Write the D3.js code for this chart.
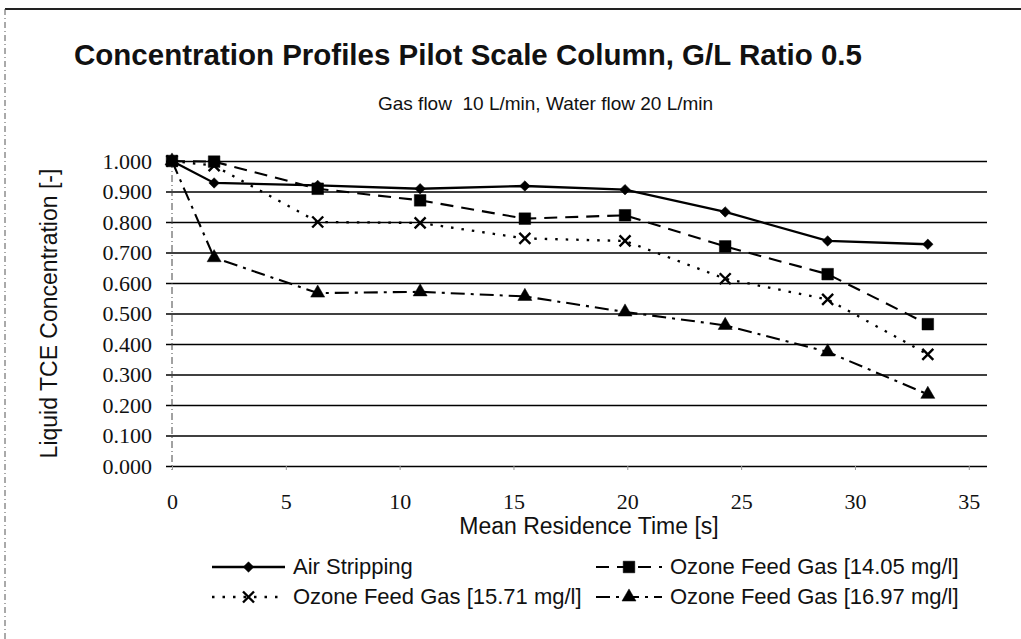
<!DOCTYPE html>
<html>
<head>
<meta charset="utf-8">
<script src="https://cdn.jsdelivr.net/npm/d3@7"></script>
<style>
  body { margin: 0; background: #fff; }
  svg { display: block; }
  .sans { font-family: "Liberation Sans", Arial, sans-serif; fill: #111; }
  .serif { font-family: "Liberation Serif", "Times New Roman", serif; fill: #111; }
</style>
</head>
<body>
<div id="chart"></div>
<script>
// Data
var times = [0, 1.85, 6.4, 10.9, 15.5, 19.9, 24.3, 28.8, 33.2];
var airStripping = [1.000, 0.928, 0.920, 0.909, 0.918, 0.906, 0.833, 0.738, 0.727];
var ozone1405 = [1.000, 0.998, 0.909, 0.871, 0.811, 0.822, 0.720, 0.629, 0.465];
var ozone1571 = [1.000, 0.985, 0.800, 0.797, 0.746, 0.738, 0.614, 0.546, 0.366];
var ozone1697 = [1.000, 0.683, 0.567, 0.571, 0.556, 0.505, 0.461, 0.374, 0.235];
var seriesNames = ["Air Stripping", "Ozone Feed Gas [14.05 mg/l]",
  "Ozone Feed Gas [15.71 mg/l]", "Ozone Feed Gas [16.97 mg/l]"];
var xTicks = [0, 5, 10, 15, 20, 25, 30, 35];
var yTicks = [0, 0.1, 0.2, 0.3, 0.4, 0.5, 0.6, 0.7, 0.8, 0.9, 1.0];

var svgWidth = 1021;
var svgHeight = 639;

var margin = { top: 161, right: 34, bottom: 173, left: 172 };
var width = svgWidth - margin.left - margin.right;
var height = svgHeight - margin.top - margin.bottom;

var svg = d3.select("#chart")
  .append("svg")
  .attr("width", svgWidth)
  .attr("height", svgHeight);

// scanned page frame (top edge + dashed left edge)
svg.append("line")
  .attr("x1", 5).attr("x2", svgWidth).attr("y1", 9).attr("y2", 9)
  .attr("stroke", "#222").attr("stroke-width", 2);
svg.append("line")
  .attr("x1", 5).attr("x2", 5).attr("y1", 9).attr("y2", svgHeight)
  .attr("stroke", "#555").attr("stroke-width", 1)
  .attr("stroke-dasharray", "6,3,1,3");

// titles
svg.append("text")
  .attr("class", "sans")
  .attr("x", 74).attr("y", 65)
  .style("font-size", "29.5px").style("font-weight", "bold")
  .text("Concentration Profiles Pilot Scale Column, G/L Ratio 0.5");

svg.append("text")
  .attr("class", "sans")
  .attr("x", 378).attr("y", 110)
  .style("font-size", "19px")
  .style("white-space", "pre")
  .text("Gas flow  10 L/min, Water flow 20 L/min");

var chartGroup = svg.append("g")
  .attr("transform", `translate(${margin.left}, ${margin.top})`);

// scales
var xScale = d3.scaleLinear().domain([0, 35.8]).range([0, width]);
var yScale = d3.scaleLinear().domain([0, 1]).range([height, 0]);

// y axis with gridlines across the plot
var yAxis = d3.axisLeft(yScale)
  .tickValues(yTicks)
  .tickFormat(d3.format(".3f"))
  .tickSize(-width)
  .tickPadding(20);

var yAxisGroup = chartGroup.append("g").call(yAxis);
yAxisGroup.select(".domain").remove();
yAxisGroup.selectAll("line")
  .attr("x1", -6)
  .attr("stroke", "#000")
  .attr("stroke-width", 1.7);
yAxisGroup.selectAll("text")
  .attr("class", "serif")
  .style("font-size", "22px")
  .attr("font-family", null);

// dash-dot vertical axis line
chartGroup.append("line")
  .attr("x1", 0).attr("x2", 0)
  .attr("y1", yScale(1)).attr("y2", yScale(0) + 4)
  .attr("stroke", "#444").attr("stroke-width", 1)
  .attr("stroke-dasharray", "7,3,1,3");

// x axis
var xAxis = d3.axisBottom(xScale)
  .tickValues(xTicks)
  .tickSize(4)
  .tickPadding(23);

var xAxisGroup = chartGroup.append("g")
  .attr("transform", `translate(0, ${height})`)
  .call(xAxis);
xAxisGroup.select(".domain").remove();
xAxisGroup.selectAll("line").attr("stroke", "#999");
xAxisGroup.selectAll("text")
  .attr("class", "serif")
  .style("font-size", "22px")
  .attr("font-family", null);

// axis titles
svg.append("text")
  .attr("class", "sans")
  .attr("x", 589).attr("y", 534)
  .attr("text-anchor", "middle")
  .style("font-size", "23px")
  .text("Mean Residence Time [s]");

svg.append("text")
  .attr("class", "sans")
  .attr("transform", `translate(57, ${margin.top + height / 2}) rotate(-90)`)
  .attr("text-anchor", "middle")
  .style("font-size", "23px")
  .text("Liquid TCE Concentration [-]");

// series
var diamondPath = d3.symbol().type(d3.symbolSquare).size(55)();
var squarePath = d3.symbol().type(d3.symbolSquare).size(135)();
var trianglePath = d3.symbol().type(d3.symbolTriangle).size(85)();
var crossPath = "M-5.5,-5.5L5.5,5.5M-5.5,5.5L5.5,-5.5";

var series = [
  { name: seriesNames[0], values: airStripping, dash: null, width: 2.3, marker: diamondPath, rotate: 45, stroke: false },
  { name: seriesNames[1], values: ozone1405, dash: "13,8", width: 2.1, marker: squarePath, rotate: 0, stroke: false },
  { name: seriesNames[2], values: ozone1571, dash: "2.5,8", width: 2.3, marker: crossPath, rotate: 0, stroke: true },
  { name: seriesNames[3], values: ozone1697, dash: "14,6,3,6", width: 2.1, marker: trianglePath, rotate: 0, stroke: false }
];

var line = d3.line()
  .x((d, i) => xScale(times[i]))
  .y(d => yScale(d));

series.forEach(function(s) {
  chartGroup.append("path")
    .datum(s.values)
    .attr("fill", "none")
    .attr("stroke", "#000")
    .attr("stroke-width", s.width)
    .attr("stroke-dasharray", s.dash)
    .attr("d", line);
});

series.forEach(function(s) {
  chartGroup.selectAll(null)
    .data(s.values)
    .enter()
    .append("path")
    .attr("d", s.marker)
    .attr("transform", (d, i) => `translate(${xScale(times[i])}, ${yScale(d)}) rotate(${s.rotate})`)
    .attr("fill", s.stroke ? "none" : "#000")
    .attr("stroke", "#000")
    .attr("stroke-width", s.stroke ? 2.4 : 0.5);
});

// legend, two rows by two columns
var legendSpots = [
  { x: 212, y: 574 }, { x: 596, y: 574 },
  { x: 212, y: 604 }, { x: 596, y: 604 }
];

series.forEach(function(s, i) {
  var spot = legendSpots[i];
  var lineLen = i % 2 === 0 ? 73 : 66;
  var g = svg.append("g").attr("transform", `translate(${spot.x}, ${spot.y})`);
  g.append("line")
    .attr("x1", 0).attr("x2", lineLen)
    .attr("y1", -7).attr("y2", -7)
    .attr("stroke", "#000")
    .attr("stroke-width", s.width)
    .attr("stroke-dasharray", s.dash);
  g.append("path")
    .attr("d", s.marker)
    .attr("transform", `translate(${lineLen / 2}, -7) rotate(${s.rotate})`)
    .attr("fill", s.stroke ? "none" : "#000")
    .attr("stroke", "#000")
    .attr("stroke-width", s.stroke ? 2.4 : 0.5);
  g.append("text")
    .attr("class", "sans")
    .attr("x", lineLen + 8)
    .attr("y", 0)
    .style("font-size", "22px")
    .text(s.name);
});
</script>
</body>
</html>
